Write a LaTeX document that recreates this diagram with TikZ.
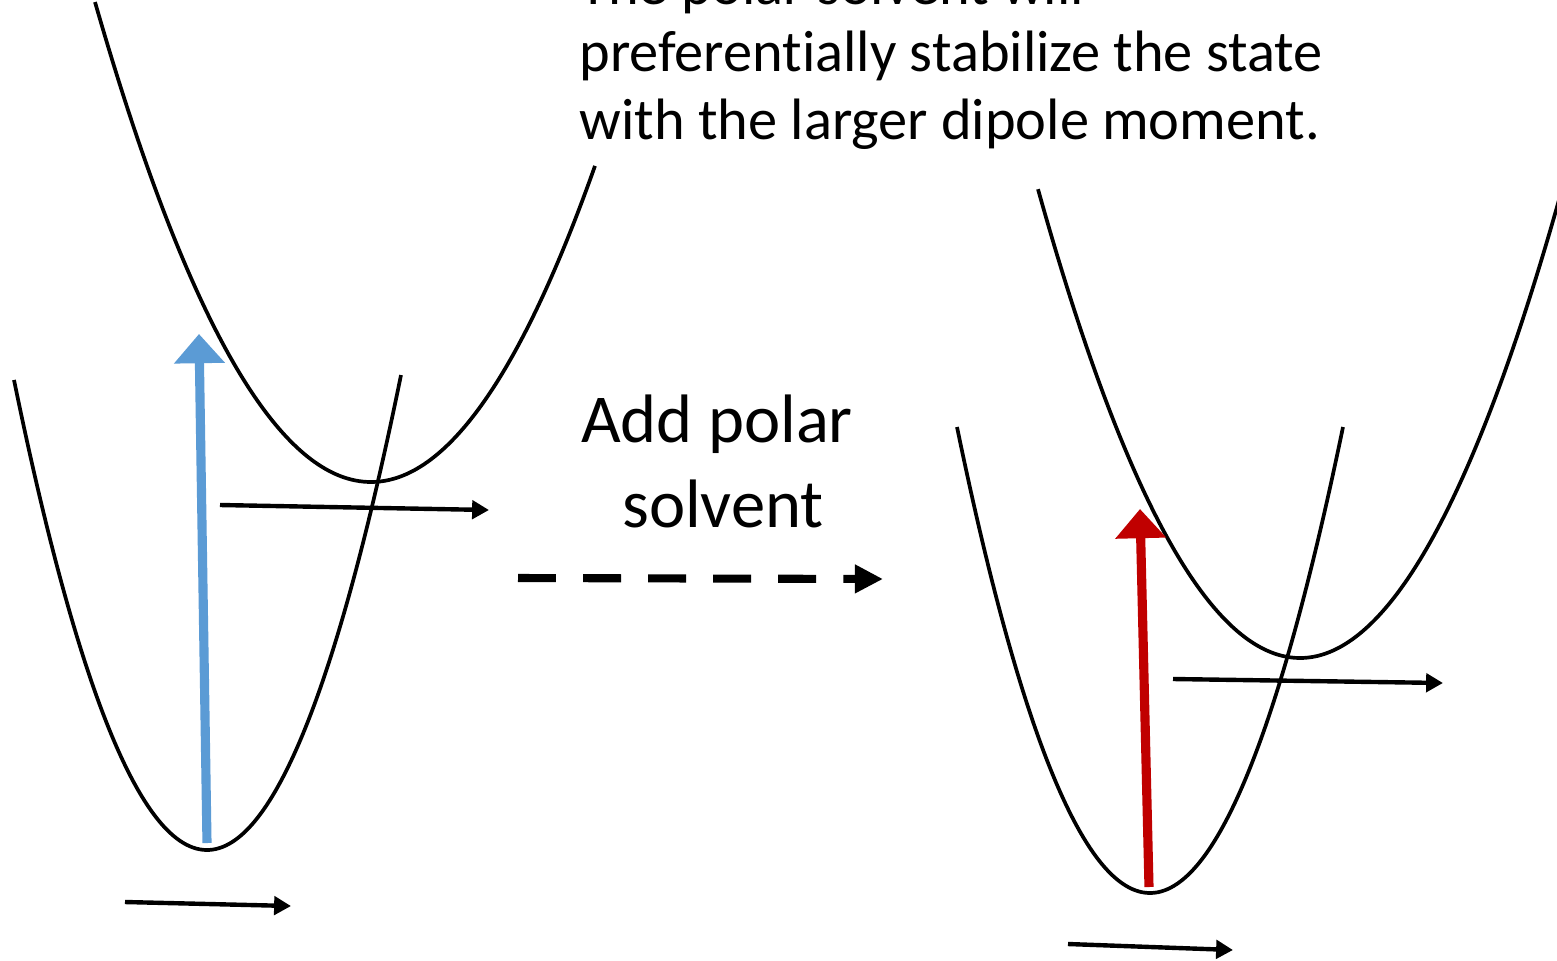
\documentclass[tikz,border=0pt]{standalone}
\usepackage{fontspec}
\setmainfont{Carlito}[Ligatures={NoCommon}]
\usetikzlibrary{arrows.meta}
\definecolor{exblue}{HTML}{5B9BD5}
\definecolor{exred}{HTML}{C00000}
\tikzset{
  curve/.style={line width=1.05pt, black, smooth},
  axisarrow/.style={line width=1.25pt, -{Triangle[length=4.8pt,width=5.2pt]}},
  bigarrow/.style={line width=2.6pt, -{Triangle[length=8.3pt,width=14pt]}},
  dasharrow/.style={line width=2.3pt, dash pattern=on 10.8pt off 7.7pt, -{Triangle[length=8pt,width=7.7pt]}},
  label/.style={inner sep=0pt, font=\fontsize{19.5}{24}\selectfont}
}
\begin{document}
\begin{tikzpicture}[x=0.01cm, y=-0.01cm]
\path[use as bounding box] (0,0) rectangle (1557,960);
\clip (0,0) rectangle (1557,960);
\fill[white] (0,0) rectangle (1557,960);
% potential curves
\draw[curve] plot[domain=95:595, samples=120] (\x, {482-(0.07937*(\x-371))^2});
\draw[curve] plot[domain=14:401, samples=120] (\x, {850-(0.11234*(\x-207))^2});
\draw[curve] plot[domain=1038:1565, samples=120] (\x, {658-(0.08264*(\x-1300))^2});
\draw[curve] plot[domain=957:1343, samples=120] (\x, {893-(0.11185*(\x-1150))^2});
% coordinates
\coordinate (bl0) at (207,843);
\coordinate (bl1) at (199,334);
\coordinate (rd0) at (1149,887);
\coordinate (rd1) at (1140,509);
\coordinate (ha0) at (220,505);
\coordinate (ha1) at (489,510);
\coordinate (hb0) at (125,902);
\coordinate (hb1) at (291,906);
\coordinate (hc0) at (1173,679);
\coordinate (hc1) at (1443,683);
\coordinate (hd0) at (1068,944);
\coordinate (hd1) at (1233,950);
\coordinate (da0) at (518,578);
\coordinate (da1) at (883,579);
% arrows
\draw[bigarrow, exblue] (bl0) -- (bl1);
\draw[bigarrow, exred] (rd0) -- (rd1);
\draw[axisarrow] (ha0) -- (ha1);
\draw[axisarrow] (hb0) -- (hb1);
\draw[axisarrow] (hc0) -- (hc1);
\draw[axisarrow] (hd0) -- (hd1);
\draw[dasharrow] (da0) -- (da1);
% texts
\node[label, anchor=base] (add1) at (717,442) {Add polar};
\node[label, anchor=base] (add2) at (723,527) {solvent};
\node[inner sep=0pt, anchor=base west, align=left, font=\fontsize{16.6}{19.1}\selectfont] (note) at (579,139)
  {The polar solvent will\\preferentially stabilize the state\\with the larger dipole moment.};
\end{tikzpicture}
\end{document}
